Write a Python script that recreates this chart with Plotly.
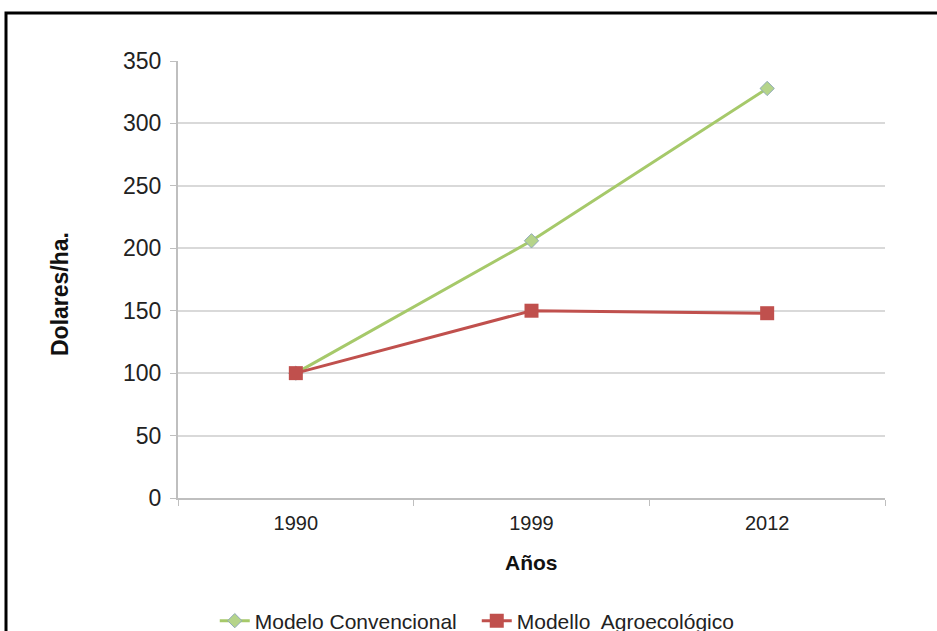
import plotly.graph_objects as go

years = ['1990', '1999', '2012']
convencional = [100, 206, 328]
agroecologico = [100, 150, 148]
y_ticks = [0, 50, 100, 150, 200, 250, 300, 350]

font_family = 'Liberation Sans, Arial, sans-serif'

# page taller than the window so the legend sits partly below the visible edge, like the original
fig_h = 665
bottom = fig_h - 498

fig = go.Figure()
fig.add_trace(go.Scatter(
    x = years, y = convencional, mode = 'lines+markers', name = 'Modelo Convencional',
    line = dict(color = '#a6c96a', width = 3),
    marker = dict(symbol = 'diamond', size = 11, color = '#b5d48a', line = dict(color = '#8fa9b8', width = 1))
))
fig.add_trace(go.Scatter(
    x = years, y = agroecologico, mode = 'lines+markers', name = 'Modello  Agroecológico',
    line = dict(color = '#c0504d', width = 3),
    marker = dict(symbol = 'square', size = 14, color = '#c0504d')
))

fig.update_layout(
    width = 937, height = fig_h,
    margin = dict(l = 178, r = 52, t = 61, b = bottom),
    paper_bgcolor = 'white', plot_bgcolor = 'white',
    font = dict(family = font_family, size = 20, color = '#222'),
    showlegend = True,
    legend = dict(orientation = 'h', x = 0.052, xanchor = 'left', y = (498 - 621) / 437, yanchor = 'middle',
                  font = dict(size = 21, color = '#222'), entrywidth = 217, entrywidthmode = 'pixels',
                  tracegroupgap = 0),
    shapes = [dict(type = 'rect', xref = 'paper', yref = 'paper',
                   x0 = (6 - 178) / 707, x1 = 1.2, y0 = -0.45, y1 = (498 - 13) / 437,
                   line = dict(color = 'black', width = 3))],
    annotations = [
        dict(text = '<b>Dolares/ha.</b>', xref = 'paper', yref = 'paper', x = (60 - 178) / 707, y = (498 - 294) / 437,
             xanchor = 'center', yanchor = 'middle',
             textangle = -90, showarrow = False, font = dict(size = 23, color = '#111')),
        dict(text = '<b>Años</b>', xref = 'paper', yref = 'paper', x = 0.5, y = (498 - 562) / 437,
             xanchor = 'center', yanchor = 'middle',
             showarrow = False, font = dict(size = 21, color = '#111')),
    ]
)

fig.update_xaxes(
    type = 'category', range = [-0.5, 2.5], showgrid = False,
    showline = True, linecolor = '#bfbfbf', linewidth = 2,
    ticks = 'outside', ticklen = 6, tickcolor = '#bfbfbf', tickson = 'boundaries',
    ticklabelstandoff = 6,
    tickfont = dict(size = 20, color = '#222')
)
fig.update_yaxes(
    range = [0, 350], tickvals = y_ticks, showgrid = True, gridcolor = '#d9d9d9', gridwidth = 2,
    showline = True, linecolor = '#bfbfbf', linewidth = 2, zeroline = False,
    ticks = 'outside', ticklen = 6, tickcolor = '#bfbfbf', ticklabelstandoff = 4,
    tickfont = dict(size = 23, color = '#222')
)

fig.write_html('out.html', config = dict(displayModeBar = False),
               post_script = "document.body.style.margin = '0'; document.body.style.overflow = 'hidden';")
